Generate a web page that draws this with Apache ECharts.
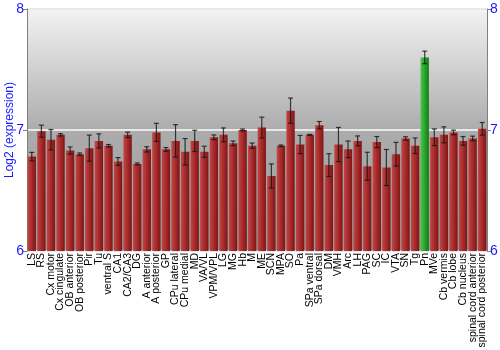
<!DOCTYPE html>
<html>
<head>
<meta charset="utf-8">
<script src="https://cdn.jsdelivr.net/npm/echarts@6/dist/echarts.min.js"></script>
<style>
  html, body { margin: 0; padding: 0; background: #fff; }
  #chart { width: 500px; height: 350px; }
</style>
</head>
<body>
<div id="chart"></div>
<script>
// regions (x axis)
var regions = ['LS', 'RS', 'Cx motor', 'Cx cingulate', 'OB anterior', 'OB posterior', 'Pir', 'Tu',
  'ventral S', 'CA1', 'CA2/CA3', 'DG', 'A anterior', 'A posterior', 'GP', 'CPu lateral', 'CPu medial',
  'MD', 'VA/VL', 'VPM/VPL', 'LG', 'MG', 'Hb', 'M', 'ME', 'SCN', 'MPA', 'SO', 'Pa', 'SPa ventral',
  'SPa dorsal', 'DM', 'VMH', 'Arc', 'LH', 'PAG', 'SC', 'IC', 'VTA', 'SN', 'Tg', 'Pn', 'MVe',
  'Cb vermis', 'Cb lobe', 'Cb nucleus', 'spinal cord anterior', 'spinal cord posterior'];

// log2 expression
var expression = [6.78, 6.99, 6.92, 6.96, 6.83, 6.80, 6.85, 6.91,
  6.87, 6.74, 6.96, 6.72, 6.84, 6.98, 6.84, 6.91, 6.82,
  6.91, 6.82, 6.94, 6.96, 6.89, 7.00, 6.87, 7.02, 6.62, 6.87, 7.16, 6.88, 6.96,
  7.04, 6.71, 6.88, 6.84, 6.91, 6.70, 6.90, 6.69, 6.80, 6.93, 6.87, 7.60, 6.94,
  6.96, 6.98, 6.91, 6.93, 7.01];

// error (+/-)
var errors = [0.035, 0.05, 0.084, 0.01, 0.03, 0.01, 0.108, 0.058,
  0.01, 0.032, 0.022, 0.008, 0.022, 0.075, 0.015, 0.134, 0.109,
  0.088, 0.046, 0.019, 0.057, 0.019, 0.008, 0.022, 0.086, 0.1, 0.006, 0.104, 0.075, 0.004,
  0.03, 0.094, 0.141, 0.069, 0.041, 0.116, 0.046, 0.149, 0.098, 0.014, 0.064, 0.052, 0.069,
  0.066, 0.019, 0.036, 0.019, 0.052];

var yTicks = [6, 7, 8];
var highlight = 'Pn';

var myChart = echarts.init(document.getElementById('chart'));

var redFill = new echarts.graphic.LinearGradient(0, 0, 1, 0, [
  { offset: 0, color: '#c24646' },
  { offset: 0.5, color: '#a82a2a' },
  { offset: 1, color: '#7a1616' }
]);
var greenFill = new echarts.graphic.LinearGradient(0, 0, 1, 0, [
  { offset: 0, color: '#4cc44c' },
  { offset: 0.5, color: '#2aa52a' },
  { offset: 1, color: '#137a13' }
]);

var errData = expression.map(function (v, i) {
  return [i, v - errors[i], v + errors[i]];
});

var yLabel = {
  color: '#1a1aff',
  fontSize: 14,
  fontFamily: 'Liberation Sans, Arial, sans-serif',
  formatter: function (v) { return yTicks.indexOf(v) >= 0 ? String(v) : ''; }
};

var option = {
  animation: false,
  // y axis title, drawn as text so it sits where the original has it
  graphic: [{
    type: 'text',
    rotation: Math.PI / 2,
    x: 10, y: 130,
    style: {
      text: 'Log2 (expression)',
      fill: '#1a1aff',
      fontSize: 12,
      fontFamily: 'Liberation Sans, Arial, sans-serif',
      align: 'center',
      verticalAlign: 'middle'
    }
  }],
  grid: {
    left: 27, right: 13, top: 9, bottom: 99,
    outerBoundsMode: 'none',
    containLabel: false,
    show: true,
    borderWidth: 0,
    backgroundColor: new echarts.graphic.LinearGradient(0, 0, 0, 1, [
      { offset: 0, color: '#f3f3f3' },
      { offset: 0.5, color: '#acacac' },
      { offset: 1, color: '#9a9a9a' }
    ])
  },
  xAxis: {
    type: 'category',
    data: regions,
    axisLine: { show: false },
    axisTick: { show: false },
    axisLabel: {
      interval: 0,
      rotate: 90,
      margin: 2,
      color: '#000',
      fontSize: 10.5,
      fontFamily: 'Liberation Sans, Arial, sans-serif'
    }
  },
  yAxis: [{
    type: 'value',
    min: 6, max: 8, interval: 1,
    axisLine: { show: true, lineStyle: { color: '#808080', width: 1 } },
    axisTick: { show: true, length: 4, inside: false, lineStyle: { color: '#808080' } },
    axisLabel: Object.assign({ margin: 3 }, yLabel),
    splitLine: { show: true, lineStyle: { color: '#e8e8e8', width: 2 } }
  }, {
    type: 'value',
    min: 6, max: 8, interval: 1,
    position: 'right',
    axisLine: { show: true, lineStyle: { color: '#808080', width: 1 } },
    axisTick: { show: true, length: 4, lineStyle: { color: '#808080' } },
    axisLabel: Object.assign({ margin: 3 }, yLabel),
    splitLine: { show: false }
  }],
  series: [{
    type: 'bar',
    data: expression,
    barCategoryGap: '13%',
    itemStyle: {
      color: function (p) { return p.name === highlight ? greenFill : redFill; }
    },
    z: 2
  }, {
    type: 'custom',
    data: errData,
    z: 3,
    renderItem: function (params, api) {
      var x = api.value(0);
      var lo = api.coord([x, api.value(1)]);
      var hi = api.coord([x, api.value(2)]);
      var cap = 2.5;
      var style = { stroke: 'rgba(20,20,20,0.8)', lineWidth: 1.2 };
      return {
        type: 'group',
        children: [
          { type: 'line', shape: { x1: lo[0], y1: lo[1], x2: hi[0], y2: hi[1] }, style: style },
          { type: 'line', shape: { x1: lo[0] - cap, y1: lo[1], x2: lo[0] + cap, y2: lo[1] }, style: style },
          { type: 'line', shape: { x1: hi[0] - cap, y1: hi[1], x2: hi[0] + cap, y2: hi[1] }, style: style }
        ]
      };
    }
  }]
};

myChart.setOption(option);
</script>
</body>
</html>
